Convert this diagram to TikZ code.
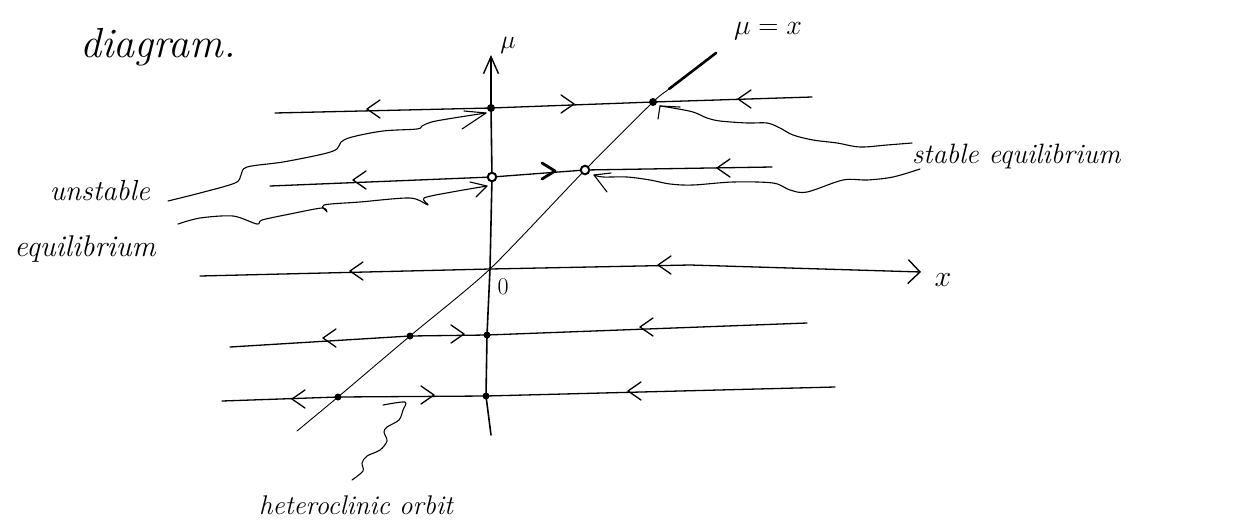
\RequirePackage{fix-cm}
\documentclass[tikz,border=0pt]{standalone}
\usetikzlibrary{arrows.meta,backgrounds}
\tikzset{
  pen/.style={line width=1.3pt,line cap=round,line join=round},
  thinpen/.style={line width=0.9pt,line cap=round,line join=round},
  wavy/.style={line width=1.1pt,line cap=round,line join=round},
  dotnode/.style={circle,fill,inner sep=0pt,minimum size=8pt},
  odotnode/.style={circle,draw,line width=2pt,fill=white,inner sep=0pt,minimum size=8.5pt},
  chevL/.pic={\draw[pen] (13,-9) -- (0,0) -- (13,9);},
  chevR/.pic={\draw[pen] (-13,-9) -- (0,0) -- (-13,9);},
  chevRthick/.pic={\draw[line width=2.8pt,line cap=round,line join=round] (-13,-8) -- (0,0) -- (-13,8);},
}
\newcommand{\fs}[1]{\fontsize{#1}{#1}\selectfont}
\begin{document}
\begin{tikzpicture}[x=1pt,y=-1pt]
\useasboundingbox (0,0) rectangle (1257,525);

% ---- equilibrium points ----
\node[dotnode]  (U1) at (491,108) {};
\node[dotnode]  (S1) at (653,102) {};
\node[odotnode] (U2) at (492,177) {};
\node[odotnode] (S2) at (585,170) {};
\coordinate (O) at (490,269);
\node[dotnode,minimum size=7pt] (A4) at (410,336) {};
\node[dotnode,minimum size=7pt] (B4) at (487,335) {};
\node[dotnode,minimum size=7pt] (A5) at (338,397) {};
\node[dotnode,minimum size=7pt] (B5) at (486,396) {};

% ---- line ends ----
\coordinate (L1a) at (275,113); \coordinate (L1b) at (812,97);
\coordinate (L2a) at (270,186); \coordinate (L2b) at (772,167);
\coordinate (L3a) at (200,276); \coordinate (L3m) at (690,265); \coordinate (L3b) at (921,272);
\coordinate (L4a) at (230,347); \coordinate (L4b) at (807,323);
\coordinate (L5a) at (222,401); \coordinate (L5b) at (835,387);
\coordinate (Ybot) at (491,435); \coordinate (Ytop) at (491,55);
\coordinate (Dbot) at (297,431); \coordinate (Dtop) at (716,53); \coordinate (Dthick) at (669,89);

\begin{scope}[on background layer]
% mu axis
\draw[line width=1.6pt,line cap=round,-{Straight Barb[length=17pt,width=15pt,line width=1.4pt]}]
  (Ybot) -- (B5.center) -- (B4.center) -- (O) -- (U2.center) -- (U1.center) -- (Ytop);
% trajectories
\draw[pen] (L1a) -- (U1.center) -- (S1.center) -- (L1b);
\draw[pen] (L2a) -- (U2) (U2) -- (S2) (S2) -- (L2b);
\draw[pen,-{Straight Barb[length=12pt,width=24pt,line width=1.4pt]}]
  (L3a) -- (O) -- (L3m) -- (L3b);
\draw[pen] (L4a) -- (A4.center) -- (B4.center) -- (L4b);
\draw[pen] (L5a) -- (A5.center) -- (B5.center) -- (L5b);
% diagonal mu = x
\draw[thinpen] plot[smooth,tension=0.4] coordinates {(Dbot) (A5.center) (A4.center) (O) (S2.center) (S1.center) (Dthick) (Dtop)};
\draw[line width=2.6pt,line cap=round] (Dthick) -- (Dtop);
\end{scope}

% ---- flow arrows ----
\pic at (367,109) {chevL};
\pic at (574,104) {chevR};
\pic at (738,99) {chevL};
\pic at (353,180) {chevL};
\pic at (555,171) {chevRthick};
\pic at (717,168) {chevL};
\pic at (350,271) {chevL};
\pic at (658,265) {chevL};
\pic at (323,338) {chevL};
\pic at (464,334) {chevR};
\pic at (640,327) {chevL};
\pic at (292,399) {chevL};
\pic at (434,395) {chevR};
\pic at (628,391) {chevL};

% ---- labels ----
\node[inner sep=0pt,anchor=base west,font=\itshape\fs{42}] (title) at (80,57) {diagram.};
\node[inner sep=0pt,font=\fs{26}] (mulab) at (508,45) {$\mu$};
\node[inner sep=0pt,font=\fs{28}] (diaglab) at (768,31) {$\mu = x$};
\node[inner sep=0pt,font=\fs{30}] (xlab) at (943,280) {$x$};
\node[inner sep=0pt,font=\fs{24}] (olab) at (503,287) {0};
\node[inner sep=0pt,anchor=base west,font=\itshape\fs{28}] (stab) at (912,163) {stable equilibrium};
\node[inner sep=0pt,anchor=base,font=\itshape\fs{29}] (unst) at (100,200) {unstable};
\node[inner sep=0pt,anchor=base,font=\itshape\fs{30}] (equi) at (85,256) {equilibrium};
\node[inner sep=0pt,anchor=base,font=\itshape\fs{27}] (het) at (356,514) {heteroclinic orbit};

% ---- pointer tips ----
\coordinate (tU1) at (486,113);
\coordinate (tU2) at (487,186);
\coordinate (tS1) at (660,106);
\coordinate (tS2) at (594,175);
\coordinate (sU1) at (168,201);
\coordinate (sU2) at (178,224);
\coordinate (sS1) at (912,143);
\coordinate (sS2) at (920,169);

% unstable pointers
\draw[wavy] plot[smooth,tension=0.55] coordinates {(sU1) (200,193) (235,183) (241,175) (247,167) (283,162) (323,154) (337,149) (341,142) (352,137) (383,131) (417,129) (422,126) (436,121) (tU1)};
\draw[wavy] (tU1) ++(-22,-2) -- (tU1) -- ++(-24,16);
\draw[wavy] plot[smooth,tension=0.5] coordinates {(sU2) (200,218) (233,216) (257,224) (262,220) (290,214) (322,208) (327,212) (324,205) (360,202) (410,198) (428,205) (424,198) (452,192) (tU2)};
\draw[wavy] (tU2) ++(-17,-4) -- (tU2) -- ++(-11,11);

% stable pointers
\draw[wavy] plot[smooth,tension=0.55] coordinates {(tS1) (673,108) (693,112) (707,118) (720,121) (747,123) (767,123) (780,128) (793,135) (813,140) (837,143) (860,147) (887,145) (sS1)};
\draw[wavy] (tS1) ++(20,1) -- (tS1) -- ++(-2,13);
\draw[wavy] plot[smooth,tension=0.55] coordinates {(tS2) (603,177) (627,177) (650,180) (670,184) (693,185) (733,182) (773,183) (790,190) (807,192) (843,180) (867,180) (893,177) (sS2)};
\draw[wavy] (tS2) ++(17,-2) -- (tS2) -- ++(13,17);

% heteroclinic orbit pointer
\coordinate (hb) at (383,405);
\coordinate (hs) at (352,480);
\draw[wavy] plot[smooth,tension=0.5] coordinates {(hb) (405,402) (403,410) (399,420) (387,427) (384,432) (387,441) (380,450) (367,456) (362,463) (363,471) (hs)};
\end{tikzpicture}
\end{document}
